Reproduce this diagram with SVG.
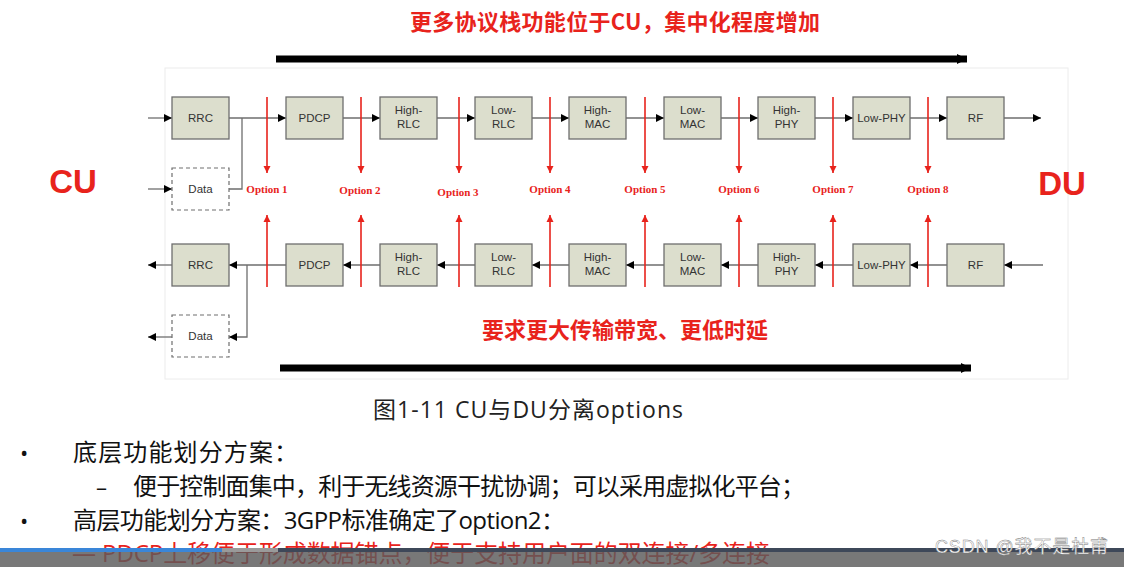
<svg xmlns="http://www.w3.org/2000/svg" width="1124" height="567" viewBox="0 0 1124 567">
<defs>
<marker id="ah" viewBox="0 0 10 10" refX="10" refY="5" markerWidth="10" markerHeight="8" markerUnits="userSpaceOnUse" orient="auto"><path d="M0,0 L10,5 L0,10z" fill="#000"/></marker>
<marker id="rah" viewBox="0 0 10 10" refX="10" refY="5" markerWidth="7" markerHeight="9" markerUnits="userSpaceOnUse" orient="auto"><path d="M0,0 L10,5 L0,10z" fill="#e8231c"/></marker>
<marker id="bigah" viewBox="0 0 10 10" refX="10" refY="5" markerWidth="10" markerHeight="16" markerUnits="userSpaceOnUse" orient="auto"><path d="M0,0 L10,5 L0,10z" fill="#000"/></marker>
<style>
.box{fill:#dcdecd;stroke:#6e6e6e;stroke-width:1.3}
.dbox{fill:#fff;stroke:#6e6e6e;stroke-width:1.2;stroke-dasharray:4,3}
.bt{font-family:"Liberation Sans",Arial,sans-serif;font-size:11.5px;fill:#333;text-anchor:middle}
.ln{stroke:#6e6e6e;stroke-width:1.3;fill:none}
.arr{stroke:#6e6e6e;stroke-width:1.3;fill:none;marker-end:url(#ah)}
.red{stroke:#e8231c;stroke-width:1.6;fill:none;marker-end:url(#rah)}
.opt{font-family:"Liberation Serif","Times New Roman",serif;font-weight:bold;font-size:11px;fill:#e8231c;text-anchor:middle}
.cj{font-family:"Open Sans","Noto Sans CJK SC",sans-serif}
.cjb{font-family:"Noto Sans CJK SC",sans-serif;font-weight:bold;fill:#e8231c}
.big{stroke:#000;stroke-width:7;marker-end:url(#bigah)}
</style>
</defs>
<rect width="1124" height="567" fill="#fff"/>
<rect x="165" y="68" width="903" height="311" fill="none" stroke="#ececec" stroke-width="1"/>

<text class="cjb" x="410" y="30" font-size="22" textLength="410">更多协议栈功能位于CU，集中化程度增加</text>
<g id="bigarrows">
<line class="big" x1="276" y1="59" x2="967" y2="59"/>
<line class="big" x1="280" y1="368" x2="971" y2="368"/>
</g>
<text x="73" y="193" font-family="Liberation Sans,Arial,sans-serif" font-size="33" font-weight="bold" fill="#e8231c" text-anchor="middle">CU</text>
<text x="1062" y="195" font-family="Liberation Sans,Arial,sans-serif" font-size="33" font-weight="bold" fill="#e8231c" text-anchor="middle">DU</text>

<g id="connectors">
<line class="arr" x1="148" y1="118" x2="172" y2="118"/>
<line class="arr" x1="229" y1="118" x2="286" y2="118"/>
<line class="arr" x1="343" y1="118" x2="380" y2="118"/>
<line class="arr" x1="437" y1="118" x2="475" y2="118"/>
<line class="arr" x1="532" y1="118" x2="569" y2="118"/>
<line class="arr" x1="626" y1="118" x2="664" y2="118"/>
<line class="arr" x1="721" y1="118" x2="758" y2="118"/>
<line class="arr" x1="815" y1="118" x2="853" y2="118"/>
<line class="arr" x1="910" y1="118" x2="947" y2="118"/>
<line class="arr" x1="1004" y1="118" x2="1041" y2="118"/>
<line class="arr" x1="148" y1="189" x2="172" y2="189"/>
<polyline class="ln" points="229,189 242,189 242,118"/>
<line class="arr" x1="172" y1="265" x2="148" y2="265"/>
<line class="arr" x1="286" y1="265" x2="229" y2="265"/>
<line class="arr" x1="380" y1="265" x2="343" y2="265"/>
<line class="arr" x1="475" y1="265" x2="437" y2="265"/>
<line class="arr" x1="569" y1="265" x2="532" y2="265"/>
<line class="arr" x1="664" y1="265" x2="626" y2="265"/>
<line class="arr" x1="758" y1="265" x2="721" y2="265"/>
<line class="arr" x1="853" y1="265" x2="815" y2="265"/>
<line class="arr" x1="947" y1="265" x2="910" y2="265"/>
<line class="arr" x1="1043" y1="265" x2="1004" y2="265"/>
<polyline class="arr" points="247,265 247,337 229,337"/>
<line class="arr" x1="172" y1="337" x2="148" y2="337"/>
<line class="red" x1="267" y1="97" x2="267" y2="173"/>
<line class="red" x1="361" y1="97" x2="361" y2="173"/>
<line class="red" x1="459" y1="97" x2="459" y2="173"/>
<line class="red" x1="550" y1="97" x2="550" y2="173"/>
<line class="red" x1="645" y1="97" x2="645" y2="173"/>
<line class="red" x1="739" y1="97" x2="739" y2="173"/>
<line class="red" x1="833" y1="97" x2="833" y2="173"/>
<line class="red" x1="928" y1="97" x2="928" y2="173"/>
<line class="red" x1="267" y1="287" x2="267" y2="215"/>
<line class="red" x1="361" y1="287" x2="361" y2="215"/>
<line class="red" x1="459" y1="287" x2="459" y2="215"/>
<line class="red" x1="550" y1="287" x2="550" y2="215"/>
<line class="red" x1="645" y1="287" x2="645" y2="215"/>
<line class="red" x1="739" y1="287" x2="739" y2="215"/>
<line class="red" x1="833" y1="287" x2="833" y2="215"/>
<line class="red" x1="928" y1="287" x2="928" y2="215"/>
</g>

<g id="options">
<text class="opt" x="267" y="193">Option 1</text>
<text class="opt" x="360" y="194">Option 2</text>
<text class="opt" x="458" y="196">Option 3</text>
<text class="opt" x="550" y="193">Option 4</text>
<text class="opt" x="645" y="193">Option 5</text>
<text class="opt" x="739" y="193">Option 6</text>
<text class="opt" x="833" y="193">Option 7</text>
<text class="opt" x="928" y="193">Option 8</text>
</g>

<g id="top-rrc"><rect class="box" x="172" y="97" width="57" height="42"/><text class="bt" x="200.5" y="122">RRC</text></g>
<g id="top-pdcp"><rect class="box" x="286" y="97" width="57" height="42"/><text class="bt" x="314.5" y="122">PDCP</text></g>
<g id="top-highrlc"><rect class="box" x="380" y="97" width="57" height="42"/><text class="bt" x="408.5" y="114">High-</text><text class="bt" x="408.5" y="128">RLC</text></g>
<g id="top-lowrlc"><rect class="box" x="475" y="97" width="57" height="42"/><text class="bt" x="503.5" y="114">Low-</text><text class="bt" x="503.5" y="128">RLC</text></g>
<g id="top-highmac"><rect class="box" x="569" y="97" width="57" height="42"/><text class="bt" x="597.5" y="114">High-</text><text class="bt" x="597.5" y="128">MAC</text></g>
<g id="top-lowmac"><rect class="box" x="664" y="97" width="57" height="42"/><text class="bt" x="692.5" y="114">Low-</text><text class="bt" x="692.5" y="128">MAC</text></g>
<g id="top-highphy"><rect class="box" x="758" y="97" width="57" height="42"/><text class="bt" x="786.5" y="114">High-</text><text class="bt" x="786.5" y="128">PHY</text></g>
<g id="top-lowphy"><rect class="box" x="853" y="97" width="57" height="42"/><text class="bt" x="881.5" y="122">Low-PHY</text></g>
<g id="top-rf"><rect class="box" x="947" y="97" width="57" height="42"/><text class="bt" x="975.5" y="122">RF</text></g>
<g id="top-data"><rect class="dbox" x="172" y="168" width="57" height="42"/><text class="bt" x="200.5" y="193">Data</text></g>

<g id="bot-rrc"><rect class="box" x="172" y="244" width="57" height="42"/><text class="bt" x="200.5" y="269">RRC</text></g>
<g id="bot-pdcp"><rect class="box" x="286" y="244" width="57" height="42"/><text class="bt" x="314.5" y="269">PDCP</text></g>
<g id="bot-highrlc"><rect class="box" x="380" y="244" width="57" height="42"/><text class="bt" x="408.5" y="261">High-</text><text class="bt" x="408.5" y="275">RLC</text></g>
<g id="bot-lowrlc"><rect class="box" x="475" y="244" width="57" height="42"/><text class="bt" x="503.5" y="261">Low-</text><text class="bt" x="503.5" y="275">RLC</text></g>
<g id="bot-highmac"><rect class="box" x="569" y="244" width="57" height="42"/><text class="bt" x="597.5" y="261">High-</text><text class="bt" x="597.5" y="275">MAC</text></g>
<g id="bot-lowmac"><rect class="box" x="664" y="244" width="57" height="42"/><text class="bt" x="692.5" y="261">Low-</text><text class="bt" x="692.5" y="275">MAC</text></g>
<g id="bot-highphy"><rect class="box" x="758" y="244" width="57" height="42"/><text class="bt" x="786.5" y="261">High-</text><text class="bt" x="786.5" y="275">PHY</text></g>
<g id="bot-lowphy"><rect class="box" x="853" y="244" width="57" height="42"/><text class="bt" x="881.5" y="269">Low-PHY</text></g>
<g id="bot-rf"><rect class="box" x="947" y="244" width="57" height="42"/><text class="bt" x="975.5" y="269">RF</text></g>
<g id="bot-data"><rect class="dbox" x="172" y="315" width="57" height="42"/><text class="bt" x="200.5" y="340">Data</text></g>

<text class="cjb" x="482" y="338" font-size="22" textLength="286">要求更大传输带宽、更低时延</text>
<text class="cj" x="373" y="418" font-size="23" fill="#222" textLength="310">图1-11 CU与DU分离options</text>

<g id="bullets" class="cj" font-size="24" fill="#111">
<text x="20" y="461" font-size="22">•</text>
<text x="73" y="461" textLength="225">底层功能划分方案：</text>
<text x="96" y="495" font-size="22">–</text>
<text x="133" y="495" textLength="672">便于控制面集中，利于无线资源干扰协调；可以采用虚拟化平台；</text>
<text x="20" y="529" font-size="22">•</text>
<text x="73" y="529" textLength="492">高层功能划分方案：3GPP标准确定了option2：</text>
<text x="72" y="562" fill="#e8231c" textLength="698">— PDCP上移便于形成数据锚点，便于支持用户面的双连接/多连接</text>
</g>

<g id="playerbar">
<rect x="0" y="552" width="1124" height="15" fill="#5a5a5a" opacity="0.82"/>
<rect x="0" y="548" width="222" height="4" fill="#3a86d8"/>
<rect x="222" y="548" width="56" height="4" fill="#9a9a9a"/>
<rect x="278" y="548" width="846" height="4" fill="#3e4859"/>
<text x="935" y="553" font-family="Liberation Sans,'Noto Sans CJK SC',sans-serif" font-size="18" fill="#fff" stroke="#777" stroke-width="0.4" textLength="173">CSDN @我不是杜甫</text>
</g>
</svg>
